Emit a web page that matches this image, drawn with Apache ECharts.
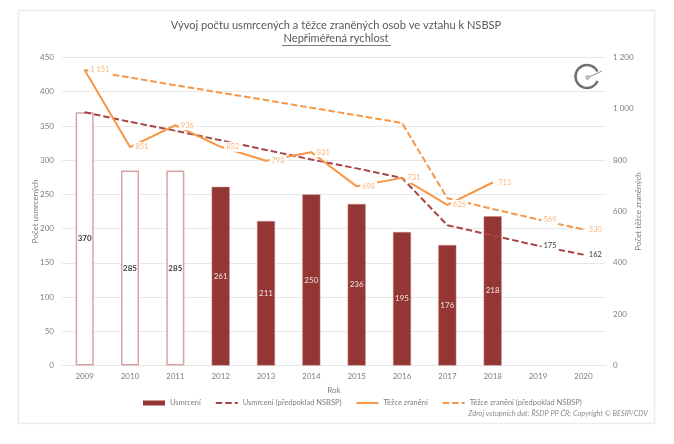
<!DOCTYPE html>
<html>
<head>
<meta charset="utf-8">
<title>NSBSP</title>
<style>
  html, body { margin: 0; padding: 0; background: #fff; }
  #chart { width: 674px; height: 444px; }
</style>
</head>
<body>
<div id="chart"></div>
<script src="https://cdn.jsdelivr.net/npm/echarts@6/dist/echarts.min.js"></script>
<script>
// data
const years = ['2009', '2010', '2011', '2012', '2013', '2014', '2015', '2016', '2017', '2018', '2019', '2020']
const killed = [370, 285, 285, 261, 211, 250, 236, 195, 176, 218, null, null]
const killedPlan = [370, 356, 343, 329, 315, 301, 288, 274, 205, 190, 175, 162]
const injured = [1151, 851, 936, 852, 798, 831, 698, 731, 626, 713, null, null]
const injuredPlan = [1151, 1122, 1092, 1063, 1034, 1004, 975, 945, 652, 610, 569, 530]
const hollowYears = ['2009', '2010', '2011'] // bars without fill
const plannedLabelYears = ['2019', '2020']

const fontFamily = 'Lato, "Open Sans", sans-serif'
const textColor = '#7f7f7f'
const darkRed = '#943634'
const orange = '#f79646'

// thousands with a space, as in the original
function spaced (value) {
  return String(value).replace(/\B(?=(\d{3})+$)/g, ' ')
}

function barData () {
  return killed.map(function (value, i) {
    if (hollowYears.indexOf(years[i]) === -1) return value
    return {
      value: value,
      itemStyle: { color: '#fff', borderColor: '#d8a3a2', borderWidth: 1.5 },
      label: { color: '#404040', fontWeight: 'bold' }
    }
  })
}

// plan lines only carry labels on the last two years
function planData (values, labelColor) {
  return values.map(function (value, i) {
    if (plannedLabelYears.indexOf(years[i]) === -1) return value
    return { value: value, label: { show: true, color: labelColor } }
  })
}

// excel style labels, the white box cuts the line behind them
const lineLabel = {
  position: 'right',
  distance: 3,
  fontSize: 7.5,
  fontFamily: fontFamily,
  backgroundColor: '#fff',
  padding: [1, 2],
  formatter: function (p) { return spaced(p.value) }
}

// symbols have to exist or the labels are dropped, so keep them tiny
const lineBase = { type: 'line', symbol: 'circle', symbolSize: 1, showAllSymbol: true }
const noMarker = { opacity: 0 } // hides the dot of the legend icon

const option = {
  animation: false,
  backgroundColor: '#fff',
  textStyle: { fontFamily: fontFamily },
  title: {
    text: 'Vývoj počtu usmrcených a těžce zraněných osob ve vztahu k NSBSP',
    subtext: 'Nepřiměřená rychlost',
    left: 331,
    textAlign: 'center',
    top: 15,
    itemGap: 2,
    textStyle: { fontFamily: fontFamily, fontSize: 11.1, fontWeight: 'normal', color: '#595959' },
    subtextStyle: { fontFamily: fontFamily, fontSize: 11.1, color: '#595959' }
  },
  legend: {
    left: 138,
    top: 394,
    itemWidth: 22,
    itemHeight: 5,
    itemGap: 14,
    textStyle: { fontFamily: fontFamily, fontSize: 7.5, color: textColor },
    data: [
      { name: 'Usmrcení', icon: 'rect', itemStyle: { borderWidth: 0 } },
      { name: 'Usmrcení (předpoklad NSBSP)', itemStyle: noMarker },
      { name: 'Těžce zranění', itemStyle: noMarker },
      { name: 'Těžce zranění (předpoklad NSBSP)', itemStyle: noMarker }
    ]
  },
  grid: { left: 62, right: 68, top: 57.5, bottom: 78.5 },
  xAxis: {
    type: 'category',
    data: years,
    name: 'Rok',
    nameLocation: 'middle',
    nameMoveOverlap: false,
    nameGap: 21,
    nameTextStyle: { color: textColor, fontSize: 8 },
    axisLine: { lineStyle: { color: '#e6e6e6', width: 1 } },
    axisTick: { show: false },
    axisLabel: { color: textColor, fontSize: 8, margin: 7 }
  },
  yAxis: [
    {
      type: 'value',
      min: 0,
      max: 450,
      interval: 50,
      name: 'Počet usmrcených',
      nameLocation: 'middle',
      nameMoveOverlap: false,
      nameGap: 23,
      nameTextStyle: { color: textColor, fontSize: 8 },
      axisLine: { show: false },
      axisTick: { show: false },
      axisLabel: { color: textColor, fontSize: 8, margin: 8 },
      splitLine: { lineStyle: { color: '#e8e8e8', width: 1 } }
    },
    {
      type: 'value',
      min: 0,
      max: 1200,
      interval: 200,
      name: 'Počet těžce zraněných',
      nameLocation: 'middle',
      nameMoveOverlap: false,
      nameGap: 28,
      nameTextStyle: { color: textColor, fontSize: 8 },
      axisLine: { show: false },
      axisTick: { show: false },
      axisLabel: { color: textColor, fontSize: 8, margin: 7, formatter: spaced },
      splitLine: { show: false }
    }
  ],
  series: [
    {
      name: 'Usmrcení',
      type: 'bar',
      barWidth: 18,
      itemStyle: { color: darkRed, borderColor: '#c08a89', borderWidth: 0.5 },
      label: { show: true, position: 'inside', color: '#f2e6e6', fontSize: 8, fontFamily: fontFamily },
      data: barData()
    },
    Object.assign({}, lineBase, {
      name: 'Usmrcení (předpoklad NSBSP)',
      itemStyle: { color: '#a84444' },
      lineStyle: { color: '#a84444', width: 2, type: [6.5, 3] },
      label: Object.assign({}, lineLabel, { show: false }),
      data: planData(killedPlan, '#404040')
    }),
    Object.assign({}, lineBase, {
      name: 'Těžce zranění',
      yAxisIndex: 1,
      itemStyle: { color: orange },
      lineStyle: { color: orange, width: 2 },
      label: Object.assign({}, lineLabel, { show: true, color: '#f9b47c' }),
      data: injured
    }),
    Object.assign({}, lineBase, {
      name: 'Těžce zranění (předpoklad NSBSP)',
      yAxisIndex: 1,
      itemStyle: { color: orange },
      lineStyle: { color: orange, width: 2, type: [6.5, 3] },
      label: Object.assign({}, lineLabel, { show: false }),
      data: planData(injuredPlan, '#f9b47c')
    })
  ],
  graphic: [
    // outer frame
    { type: 'rect', silent: true, z: -1, shape: { x: 18.5, y: 10.5, width: 636, height: 413 }, style: { fill: 'none', stroke: '#ececec', lineWidth: 1.5 } },
    // underline of the subtitle
    { type: 'line', silent: true, shape: { x1: 282, y1: 45.5, x2: 391, y2: 45.5 }, style: { stroke: '#595959', lineWidth: 0.8 } },
    // speedometer icon
    { type: 'arc', silent: true, shape: { cx: 587, cy: 76.5, r: 11.5, startAngle: -0.45, endAngle: 0.4, clockwise: false }, style: { fill: 'none', stroke: '#6f6f6f', lineWidth: 2.5 } },
    { type: 'circle', silent: true, shape: { cx: 587.5, cy: 77.5, r: 1.6 }, style: { fill: 'none', stroke: '#6f6f6f', lineWidth: 1 } },
    { type: 'line', silent: true, shape: { x1: 589, y1: 77, x2: 602, y2: 71 }, style: { stroke: '#8f8f8f', lineWidth: 1 } },
    // source note
    {
      type: 'text',
      silent: true,
      style: {
        x: 648,
        y: 414,
        text: 'Zdroj vstupních dat: ŘSDP PP ČR; Copyright © BESIP/CDV',
        align: 'right',
        verticalAlign: 'middle',
        fill: '#8c8c8c',
        font: 'italic 7.4px ' + fontFamily
      }
    }
  ]
}

const myChart = echarts.init(document.getElementById('chart'))
myChart.setOption(option)
</script>
</body>
</html>
